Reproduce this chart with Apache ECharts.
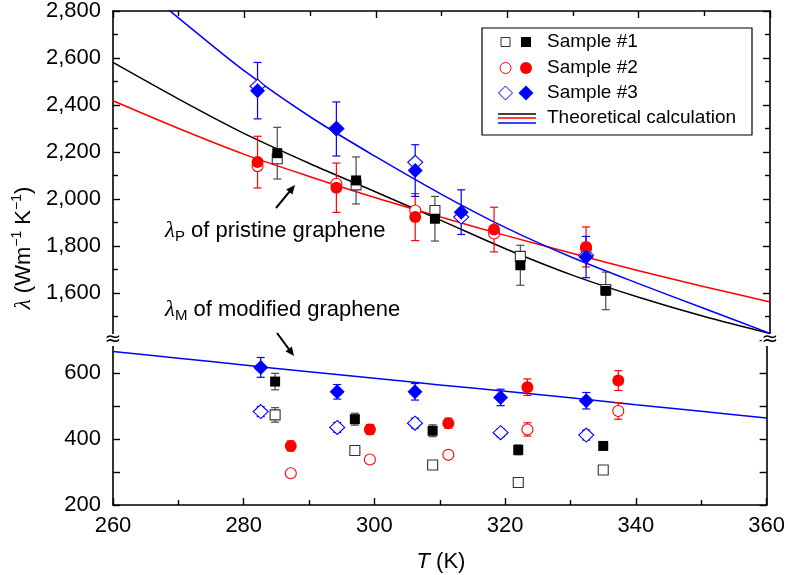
<!DOCTYPE html>
<html>
<head>
<meta charset="utf-8">
<script src="https://cdn.jsdelivr.net/npm/echarts@6/dist/echarts.min.js"></script>
<style>html,body{margin:0;padding:0;background:#fff}#c{width:788px;height:575px}</style>
</head>
<body>
<div id="c"></div>
<script>
// ---------- DATA ----------
// Pristine graphene (upper, broken axis part)
const t1Top = [285, 297, 309, 322, 335];
const s1FilledTop = [2195, 2079, 1916, 1718, 1609];
const s1OpenTop = [2171, 2060, 1951, 1756, 1615];
const s1ErrTop = [110, 100, 95, 85, 80];

const t2Top = [282, 294, 306, 318, 332];
const s2FilledTop = [2157, 2048, 1923, 1870, 1796];
const s2OpenTop = [2140, 2065, 1951, 1853, 1790];
const s2ErrTop = [110, 105, 100, 95, 85];

const t3Top = [282, 294, 306, 313, 332];
const s3FilledTop = [2461, 2298, 2121, 1944, 1753];
const s3OpenTop = [2480, 2300, 2156, 1923, 1760];
const s3ErrTop = [120, 115, 110, 95, 88];

// Modified graphene (lower part)
const t1Bot = [284.8, 297, 308.9, 322, 335];
const s1FilledBot = [574, 460, 425, 367, 379];
const s1FilledBotErr = [25, 18, 18, 15, 12];
const s1OpenBot = [473, 365, 321, 268, 306];
const s1OpenBotErr = [22, 12, 6, 5, 5];

const t2Bot = [287.2, 299.3, 311.3, 323.4, 337.3];
const s2FilledBot = [379, 429, 448, 557, 577];
const s2FilledBotErr = [15, 15, 15, 25, 30];
const s2OpenBot = [296, 338, 352, 429, 485];
const s2OpenBotErr = [5, 10, 8, 20, 25];

const t3Bot = [282.6, 294.3, 306.2, 319.3, 332.4];
const s3FilledBot = [617, 543, 543, 526, 516];
const s3FilledBotErr = [30, 22, 25, 25, 25];
const s3OpenBot = [483, 435, 448, 419, 412];
const s3OpenBotErr = [15, 15, 15, 12, 15];

// Theoretical calculation curves
const theoryT = [260, 270, 280, 290, 300, 310, 320, 330, 340, 350, 360];
const theoryBlackTop = [2581, 2425, 2278, 2150, 2030, 1908, 1785, 1675, 1582, 1500, 1428];
const theoryRedTop = [2418, 2300, 2190, 2095, 2005, 1922, 1843, 1768, 1695, 1627, 1562];
const theoryBlueTop = [3000, 2770, 2545, 2350, 2180, 2020, 1875, 1750, 1640, 1534, 1428];
const theoryBlueBot = [665, 645, 624, 604, 584, 564, 545, 525, 504, 484, 464];

const xTicks = [260, 280, 300, 320, 340, 360];
const legendNames = ['Sample #1', 'Sample #2', 'Sample #3', 'Theoretical calculation'];

// ---------- STYLE ----------
const FONT = '"Liberation Sans", Arial, Helvetica, sans-serif';
const SERIF = '"Liberation Serif", "DejaVu Serif", serif';
const BLACK = '#000000', RED = '#ff0000', BLUE = '#0000ff', GREY = '#4a4a4a';
const L = 113, R = 770, TOP = 10, MID = 340, BOT = 505;

const pairs = (xs, ys) => xs.map((x, i) => [x, ys[i]]);
const triples = (xs, ys, es) => xs.map((x, i) => [x, ys[i], es[i]]);

function errSeries(xs, ys, es, color, xi, yi) {
  return {
    type: 'custom', xAxisIndex: xi, yAxisIndex: yi, silent: true, z: 2,
    data: triples(xs, ys, es), encode: { x: 0, y: 1 },
    renderItem: function (params, api) {
      const x = api.value(0), y = api.value(1), e = api.value(2);
      const a = api.coord([x, y + e]), b = api.coord([x, y - e]);
      const hw = 4, st = { stroke: color, lineWidth: 1.2 };
      return { type: 'group', children: [
        { type: 'line', shape: { x1: a[0], y1: a[1], x2: b[0], y2: b[1] }, style: st },
        { type: 'line', shape: { x1: a[0] - hw, y1: a[1], x2: a[0] + hw, y2: a[1] }, style: st },
        { type: 'line', shape: { x1: b[0] - hw, y1: b[1], x2: b[0] + hw, y2: b[1] }, style: st }
      ] };
    }
  };
}
function scat(xs, ys, symbol, size, color, open, xi, yi) {
  return {
    type: 'scatter', xAxisIndex: xi, yAxisIndex: yi, silent: true, z: open ? 3 : 4,
    data: pairs(xs, ys), symbol: symbol, symbolSize: size,
    itemStyle: open ? { color: '#fff', borderColor: color, borderWidth: 1.1, opacity: 1 }
                    : { color: color, borderWidth: 0, opacity: 1 }
  };
}
function lineS(ys, color, xi, yi) {
  return {
    type: 'line', xAxisIndex: xi, yAxisIndex: yi, silent: true, z: 1, clip: true,
    data: pairs(theoryT, ys), smooth: 0.3, showSymbol: false, symbol: 'none',
    lineStyle: { color: color, width: 1.5 }
  };
}

const tickCommon = {
  axisLine: { show: true, onZero: false, lineStyle: { color: BLACK, width: 1.6 } },
  axisTick: { show: true, inside: true, length: 7, lineStyle: { color: BLACK, width: 1.4 } },
  splitLine: { show: false }
};
function xAx(gi, pos, labels) {
  return Object.assign({}, tickCommon, {
    type: 'value', gridIndex: gi, position: pos, min: 260, max: 360, interval: 20,
    minorTick: { show: true, splitNumber: 2, length: 5, lineStyle: { color: BLACK, width: 1.4 } },
    axisLabel: { show: labels, fontSize: 22, fontFamily: FONT, color: BLACK, margin: 10,
      formatter: v => xTicks.indexOf(v) >= 0 ? String(v) : '' }
  });
}
function yAx(gi, pos, min, max, interval, minor, labels, fmt) {
  return Object.assign({}, tickCommon, {
    type: 'value', gridIndex: gi, position: pos, min: min, max: max, interval: interval,
    minorTick: { show: minor, splitNumber: 2, length: 5, lineStyle: { color: BLACK, width: 1.4 } },
    axisLabel: { show: labels, fontSize: 22, fontFamily: FONT, color: BLACK, margin: 12, formatter: fmt }
  });
}
const fmtTop = v => (v <= 1400 ? '' : v.toLocaleString('en-US'));
const fmtBot = v => (v % 200 === 0 && v < 700 ? String(v) : '');

function arrow(x1, y1, x2, y2) {
  const dx = x2 - x1, dy = y2 - y1, len = Math.hypot(dx, dy);
  const ux = dx / len, uy = dy / len, hl = 9, hw = 4;
  const bx = x2 - ux * hl, by = y2 - uy * hl;
  return [
    { type: 'line', shape: { x1: x1, y1: y1, x2: bx + ux, y2: by + uy }, style: { stroke: BLACK, lineWidth: 2 } },
    { type: 'polygon', shape: { points: [[x2, y2], [bx - uy * hw, by + ux * hw], [bx + uy * hw, by - ux * hw]] }, style: { fill: BLACK } }
  ];
}

const LX = 482, LY = 28;
const rowY = [42, 68, 93, 118];
const legendEls = [
  { type: 'rect', shape: { x: LX, y: LY, width: 270, height: 107 }, style: { fill: '#fff', stroke: BLACK, lineWidth: 1.2 } },
  { type: 'rect', shape: { x: 501, y: rowY[0] - 4.5, width: 9, height: 9 }, style: { fill: '#fff', stroke: '#333', lineWidth: 1 } },
  { type: 'rect', shape: { x: 521, y: rowY[0] - 5, width: 10, height: 10 }, style: { fill: BLACK } },
  { type: 'circle', shape: { cx: 505.5, cy: rowY[1], r: 5.5 }, style: { fill: '#fff', stroke: RED, lineWidth: 1 } },
  { type: 'circle', shape: { cx: 526, cy: rowY[1], r: 6 }, style: { fill: RED } },
  { type: 'polygon', shape: { points: [[505.5, rowY[2] - 7], [512.5, rowY[2]], [505.5, rowY[2] + 7], [498.5, rowY[2]]] }, style: { fill: '#fff', stroke: BLUE, lineWidth: 1 } },
  { type: 'polygon', shape: { points: [[526, rowY[2] - 7.5], [533.5, rowY[2]], [526, rowY[2] + 7.5], [518.5, rowY[2]]] }, style: { fill: BLUE } },
  { type: 'line', shape: { x1: 498, y1: rowY[3] - 4, x2: 536, y2: rowY[3] - 4 }, style: { stroke: BLACK, lineWidth: 1.3 } },
  { type: 'line', shape: { x1: 498, y1: rowY[3], x2: 536, y2: rowY[3] }, style: { stroke: RED, lineWidth: 1.3 } },
  { type: 'line', shape: { x1: 498, y1: rowY[3] + 5, x2: 536, y2: rowY[3] + 5 }, style: { stroke: BLUE, lineWidth: 1.3 } }
].concat(legendNames.map((n, i) => ({
  type: 'text', x: 547, y: rowY[i], style: { text: n, fontSize: 19, fontFamily: FONT, fill: BLACK, align: 'left', verticalAlign: 'middle' }
})));

const annRich = {
  l: { fontSize: 23, fontFamily: SERIF, fontStyle: 'italic', lineHeight: 26, verticalAlign: 'middle' },
  s: { fontSize: 15, fontFamily: FONT, lineHeight: 14, verticalAlign: 'bottom' },
  t: { fontSize: 22, fontFamily: FONT, lineHeight: 26, verticalAlign: 'middle' }
};
const ylRich = {
  l: { fontSize: 23, fontFamily: SERIF, fontStyle: 'italic', lineHeight: 28, verticalAlign: 'middle' },
  t: { fontSize: 22, fontFamily: FONT, lineHeight: 28, verticalAlign: 'middle' },
  p: { fontSize: 14, fontFamily: FONT, lineHeight: 14, verticalAlign: 'top' }
};

const graphics = legendEls.concat(
  [
    { type: 'text', x: 165, y: 231, style: { text: '{l|λ}{s|P}{t| of pristine graphene}', rich: annRich, align: 'left', verticalAlign: 'middle', fill: BLACK } },
    { type: 'text', x: 165, y: 310, style: { text: '{l|λ}{s|M}{t| of modified graphene}', rich: annRich, align: 'left', verticalAlign: 'middle', fill: BLACK } },
    { type: 'text', x: 24, y: 248, rotation: Math.PI / 2, style: { text: '{l|λ}{t| (Wm}{p|−1}{t| K}{p|−1}{t|)}', rich: ylRich, align: 'center', verticalAlign: 'middle', fill: BLACK } },
    { type: 'text', x: 441, y: 562, style: { text: '{i|T}{t| (K)}', rich: { i: { fontSize: 22, fontFamily: FONT, fontStyle: 'italic' }, t: { fontSize: 22, fontFamily: FONT } }, align: 'center', verticalAlign: 'middle', fill: BLACK } },
    { type: 'text', x: L, y: MID, z: 100, style: { text: '≈', fontSize: 20, fontFamily: '"DejaVu Sans", sans-serif', lineHeight: 12, fill: BLACK, backgroundColor: '#fff', align: 'center', verticalAlign: 'middle' } },
    { type: 'text', x: R, y: MID, z: 100, style: { text: '≈', fontSize: 20, fontFamily: '"DejaVu Sans", sans-serif', lineHeight: 12, fill: BLACK, backgroundColor: '#fff', align: 'center', verticalAlign: 'middle' } }
  ],
  arrow(276, 208, 295, 185),
  arrow(277, 333, 294, 356)
);

const chart = echarts.init(document.getElementById('c'), null, { renderer: 'canvas', width: 788, height: 575 });
chart.setOption({
  animation: false,
  backgroundColor: '#fff',
  grid: [
    { left: L, right: 788 - R, top: TOP, height: MID - TOP, containLabel: false },
    { left: L, right: 788 - R, top: MID, height: BOT - MID, containLabel: false }
  ],
  xAxis: [xAx(0, 'top', false), xAx(1, 'bottom', true)],
  yAxis: [
    yAx(0, 'left', 1400, 2800, 200, true, true, fmtTop),
    yAx(0, 'right', 1400, 2800, 200, true, false, fmtTop),
    yAx(1, 'left', 200, 700, 100, false, true, fmtBot),
    yAx(1, 'right', 200, 700, 100, false, false, fmtBot)
  ],
  series: [
    lineS(theoryBlackTop, BLACK, 0, 0),
    lineS(theoryRedTop, RED, 0, 0),
    lineS(theoryBlueTop, BLUE, 0, 0),
    lineS(theoryBlueBot, BLUE, 1, 2),
    errSeries(t1Top, s1FilledTop, s1ErrTop, GREY, 0, 0),
    errSeries(t2Top, s2FilledTop, s2ErrTop, RED, 0, 0),
    errSeries(t3Top, s3FilledTop, s3ErrTop, BLUE, 0, 0),
    errSeries(t1Bot, s1FilledBot, s1FilledBotErr, GREY, 1, 2),
    errSeries(t1Bot, s1OpenBot, s1OpenBotErr, GREY, 1, 2),
    errSeries(t2Bot, s2FilledBot, s2FilledBotErr, RED, 1, 2),
    errSeries(t2Bot, s2OpenBot, s2OpenBotErr, RED, 1, 2),
    errSeries(t3Bot, s3FilledBot, s3FilledBotErr, BLUE, 1, 2),
    errSeries(t3Bot, s3OpenBot, s3OpenBotErr, BLUE, 1, 2),
    scat(t1Top, s1OpenTop, 'rect', 10, '#333', true, 0, 0),
    scat(t2Top, s2OpenTop, 'circle', 11, RED, true, 0, 0),
    scat(t3Top, s3OpenTop, 'diamond', [15, 14], BLUE, true, 0, 0),
    scat(t1Top, s1FilledTop, 'rect', 10, BLACK, false, 0, 0),
    scat(t2Top, s2FilledTop, 'circle', 12, RED, false, 0, 0),
    scat(t3Top, s3FilledTop, 'diamond', [15, 15], BLUE, false, 0, 0),
    scat(t1Bot, s1OpenBot, 'rect', 10, '#333', true, 1, 2),
    scat(t2Bot, s2OpenBot, 'circle', 11, RED, true, 1, 2),
    scat(t3Bot, s3OpenBot, 'diamond', [15, 14], BLUE, true, 1, 2),
    scat(t1Bot, s1FilledBot, 'rect', 10, BLACK, false, 1, 2),
    scat(t2Bot, s2FilledBot, 'circle', 12, RED, false, 1, 2),
    scat(t3Bot, s3FilledBot, 'diamond', [15, 15], BLUE, false, 1, 2)
  ],
  graphic: graphics
});
</script>
</body>
</html>
